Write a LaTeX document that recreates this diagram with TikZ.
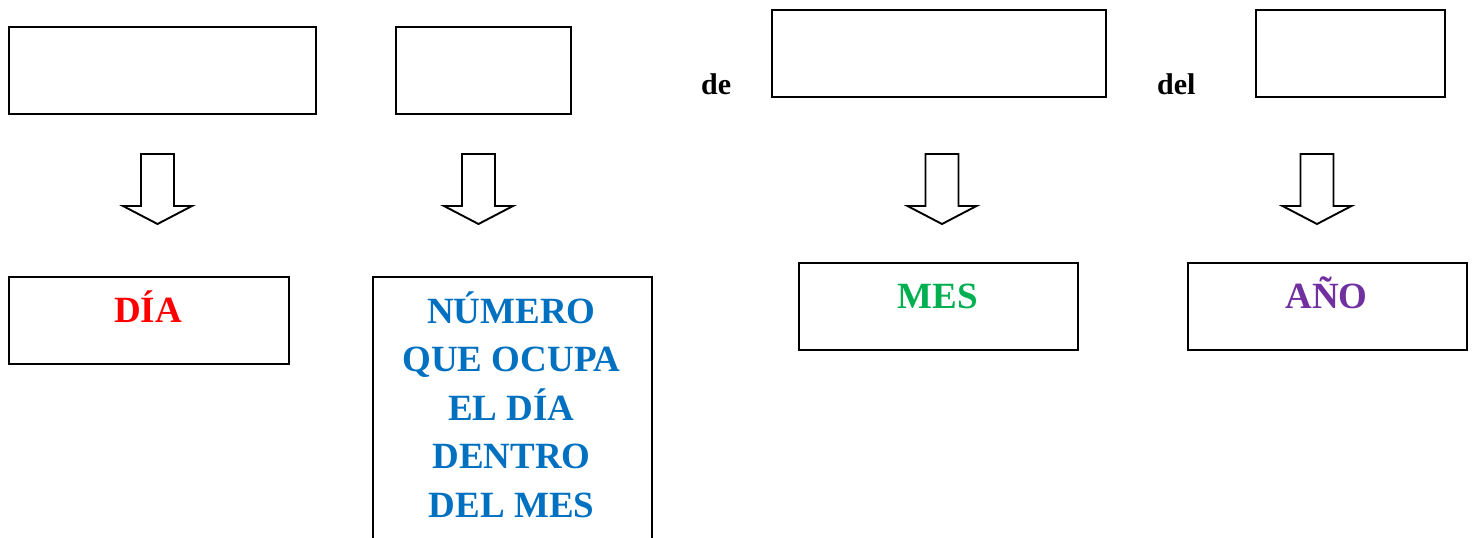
\documentclass[tikz,border=0pt]{standalone}
\usepackage{fontspec}
\setmainfont{Liberation Serif}
\definecolor{cred}{HTML}{FF0000}
\definecolor{cblue}{HTML}{0070C0}
\definecolor{cgreen}{HTML}{00B050}
\definecolor{cpurple}{HTML}{7030A0}
\begin{document}
\begin{tikzpicture}[x=1pt,y=-1pt,
  box/.style={draw, line width=1.9pt, inner sep=0pt, anchor=north west, minimum height=87pt},
  blockarrow/.style={draw, line width=1.9pt, line join=miter},
  lbl/.style={font=\fontsize{37}{48.5}\selectfont\bfseries, anchor=base, align=center, inner sep=0pt},
  small/.style={font=\fontsize{30}{36}\selectfont\bfseries, anchor=base west, inner sep=0pt}]
\useasboundingbox (0,0) rectangle (1476,538);
\clip (0,0) rectangle (1476,538);
% top boxes
\node[box, minimum width=307pt] (t1) at (8,26) {};
\node[box, minimum width=175pt] (t2) at (395,26) {};
\node[box, minimum width=334pt] (t3) at (771,9) {};
\node[box, minimum width=189pt] (t4) at (1255,9) {};
\node[small] (de) at (701,94) {de};
\node[small] (del) at (1157,94) {del};
% block arrows
\foreach \cx in {157.5,478.5,942,1317}{
  \draw[blockarrow] (\cx-16.5,154) -- (\cx+16.5,154) -- (\cx+16.5,206) -- (\cx+34.5,206)
    -- (\cx,224) -- (\cx-34.5,206) -- (\cx-16.5,206) -- cycle;
}
% bottom boxes
\node[box, minimum width=280pt] (b1) at (8,276) {};
\node[box, minimum width=279pt, minimum height=290pt] (b2) at (372,276) {};
\node[box, minimum width=279pt] (b3) at (798,262) {};
\node[box, minimum width=279pt] (b4) at (1187,262) {};
\node[lbl, text=cred] (l1) at (148,322) {DÍA};
\node[lbl, text=cblue] (l2) at (511.5,517) {NÚMERO\\QUE OCUPA\\EL DÍA\\DENTRO\\DEL MES};
\node[lbl, text=cgreen] (l3) at (937.5,308) {MES};
\node[lbl, text=cpurple] (l4) at (1326.5,308) {AÑO};
\end{tikzpicture}
\end{document}
